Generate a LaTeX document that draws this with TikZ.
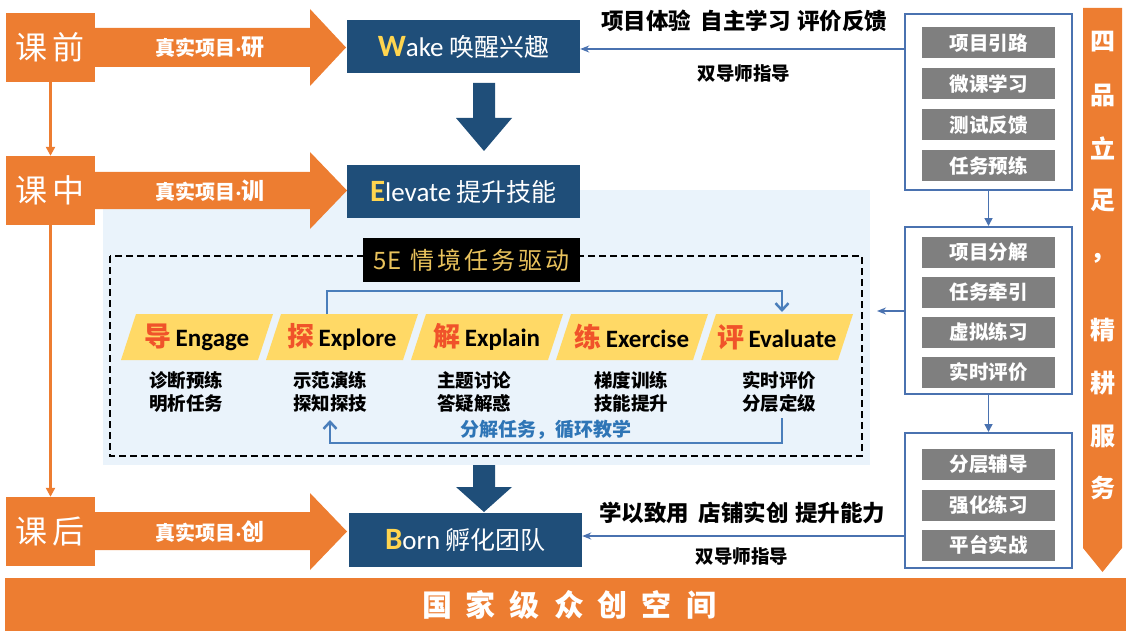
\documentclass[tikz,border=0pt]{standalone}
\usepackage{fontspec}
\setmainfont{Noto Sans CJK SC}
\newfontfamily\lat{Carlito}
\usetikzlibrary{arrows.meta}
\definecolor{org}{HTML}{ED7D31}
\definecolor{navy}{HTML}{1F4E79}
\definecolor{gold}{HTML}{FFD54F}
\definecolor{gold5}{HTML}{E9C25C}
\definecolor{yel}{HTML}{FFD966}
\definecolor{redc}{HTML}{F0532A}
\definecolor{gry}{HTML}{7F7F7F}
\definecolor{bord}{HTML}{4A72B0}
\definecolor{lblue}{HTML}{4A7EBB}
\definecolor{bgb}{HTML}{EAF3FB}
\definecolor{txtb}{HTML}{2E75B6}
\tikzset{
  lbox/.style={fill=org, text=white, inner sep=0, minimum width=89, minimum height=69, font=\fontsize{32}{32}\selectfont},
  nbox/.style={fill=navy, text=white, inner sep=0, minimum width=233, minimum height=53, font=\fontsize{25}{25}\selectfont},
  atext/.style={text=white, font=\bfseries\fontsize{20}{20}\selectfont},
  gitem/.style={fill=gry, text=white, inner sep=0, minimum width=133, minimum height=31, font=\bfseries\fontsize{19.5}{19.5}\selectfont},
  rbox/.style={draw=bord, line width=2, fill=white, inner sep=0, minimum width=167},
  conn/.style={draw=bord, line width=1.6},
  sub/.style={font=\bfseries\fontsize{18.5}{23}\selectfont, align=center},
  ptext/.style={font=\fontsize{25}{25}\selectfont},
  looparrow/.style={draw=lblue, line width=2.5, -{Straight Barb[length=7,width=13,line width=2.5]}},
  otext/.style={font=\bfseries\fontsize{22.5}{22.5}\selectfont},
  ttext/.style={font=\bfseries\fontsize{18.5}{18.5}\selectfont},
  vchar/.style={text=white, font=\bfseries\fontsize{25}{25}\selectfont},
}
\begin{document}
\begin{tikzpicture}[x=1pt,y=-1pt]
\useasboundingbox (0,0) rectangle (1126,631);

% light background region
\fill[bgb] (103,190) rectangle (870,465);

% left orange boxes
\node[lbox] (k1) at (50.5,47.5) {课\hspace{5pt}前};
\node[lbox] (k2) at (50.5,190.5) {课\hspace{5pt}中};
\node[lbox] (k3) at (50.5,531.5) {课\hspace{5pt}后};
\draw[org, line width=2.5, -{Triangle[length=9,width=9]}] (k1.south) -- (k2.north);
\draw[org, line width=2.5, -{Triangle[length=9,width=9]}] (k2.south) -- (k3.north);

% orange arrows
\fill[org] (95,28) -- (310,28) -- (310,9) -- (346,47.5) -- (310,86) -- (310,67) -- (95,67) -- cycle;
\fill[org] (95,172) -- (310,172) -- (310,152) -- (347,190.5) -- (310,229) -- (310,209) -- (95,209) -- cycle;
\fill[org] (95,512) -- (310,512) -- (310,493) -- (347,531.5) -- (310,570) -- (310,550) -- (95,550) -- cycle;
\node[atext] (a1) at (210,47.5) {真实项目{\lat\bfseries ·}{\fontsize{23}{23}\selectfont 研}};
\node[atext] (a2) at (210,190.5) {真实项目{\lat\bfseries ·}{\fontsize{23}{23}\selectfont 训}};
\node[atext] (a3) at (210,531.5) {真实项目{\lat\bfseries ·}{\fontsize{23}{23}\selectfont 创}};

% navy boxes
\node[nbox] (wake) at (463.5,46.5) {{\lat\bfseries\color{gold}\fontsize{31}{31}\selectfont W}{\lat\fontsize{27}{27}\selectfont ake} 唤醒兴趣};
\node[nbox] (elev) at (463.5,191.5) {{\lat\bfseries\color{gold}\fontsize{31}{31}\selectfont E}{\lat\fontsize{27}{27}\selectfont levate} 提升技能};
\node[nbox, minimum height=54] (born) at (465.5,540) {{\lat\bfseries\color{gold}\fontsize{31}{31}\selectfont B}{\lat\fontsize{27}{27}\selectfont orn} 孵化团队};

% navy down arrows
\fill[navy] (473,83) -- (495,83) -- (495,118) -- (512,118) -- (484,151) -- (456,118) -- (473,118) -- cycle;
\fill[navy] (473,465) -- (495,465) -- (495,487) -- (512,487) -- (484,512) -- (456,487) -- (473,487) -- cycle;

% dashed frame and title
\draw[black, line width=2, dash pattern=on 7pt off 4pt] (110,256) rectangle (862,456);
\node[fill=black, text=gold5, inner sep=0, minimum width=217, minimum height=44, font=\fontsize{24}{24}\selectfont] (title) at (471.5,260)
  {5E\hspace{9pt}情\hspace{3pt}境\hspace{3pt}任\hspace{3pt}务\hspace{3pt}驱\hspace{3pt}动};

% parallelograms
\foreach \i/\c/\w in {0/导/Engage,1/探/Explore,2/解/Explain,3/练/Exercise,4/评/Evaluate}{
  \pgfmathsetmacro{\bl}{121+145*\i}
  \fill[yel] (\bl,360) -- (\bl+137,360) -- (\bl+152,314) -- (\bl+15,314) -- cycle;
  \node[ptext] (p\i) at (\bl+76,337) {{\bfseries\color{redc}\fontsize{27}{27}\selectfont\c}\hspace{4pt}{\lat\bfseries \w}};
}
\node[sub] (s0) at (186,392) {诊断预练\\明析任务};
\node[sub] (s1) at (330,392) {示范演练\\探知探技};
\node[sub] (s2) at (474,392) {主题讨论\\答疑解惑};
\node[sub] (s3) at (631,392) {梯度训练\\技能提升};
\node[sub] (s4) at (779,392) {实时评价\\分层定级};

% loop arrows
\coordinate (lt1) at (327,314);
\coordinate (lt2) at (782,312);
\coordinate (lb1) at (782,418);
\coordinate (lb2) at (330,420);
\draw[looparrow] (lt1) -- (327,291) -- (782,291) -- (lt2);
\draw[looparrow] (lb1) -- (782,443) -- (330,443) -- (lb2);
\node[text=txtb, font=\bfseries\fontsize{19}{19}\selectfont] (cyc) at (546,430) {分解任务，循环教学};

% right boxes
\node[rbox, minimum height=176] (b1) at (988.5,102) {};
\node[rbox, minimum height=167] (b2) at (988.5,310.5) {};
\node[rbox, minimum height=135] (b3) at (988.5,500.5) {};
\node[gitem] (g11) at (988.5,43) {项目引路};
\node[gitem] (g12) at (988.5,84) {微课学习};
\node[gitem] (g13) at (988.5,125) {测试反馈};
\node[gitem] (g14) at (988.5,166) {任务预练};
\node[gitem] (g21) at (988.5,252) {项目分解};
\node[gitem] (g22) at (988.5,292) {任务牵引};
\node[gitem] (g23) at (988.5,332) {虚拟练习};
\node[gitem] (g24) at (988.5,372) {实时评价};
\node[gitem] (g31) at (988.5,464) {分层辅导};
\node[gitem] (g32) at (988.5,505) {强化练习};
\node[gitem] (g33) at (988.5,545) {平台实战};
\draw[conn, -{Triangle[length=8,width=8]}] (b1.south) -- (b2.north);
\draw[conn, -{Triangle[length=8,width=8]}] (b2.south) -- (b3.north);
\coordinate (e5) at (877,311);
\draw[conn, -{Stealth[length=9,width=7]}] (b2.west |- e5) -- (e5);
\draw[conn, -{Stealth[length=9,width=7]}] (b1.west |- 0,49) -- (wake.east |- 0,49);
\draw[conn, -{Stealth[length=9,width=7]}] (b3.west |- 0,536) -- (born.east |- 0,536);
\node[otext] (t1) at (744,21) {项目体验\hspace{10pt}自主学习\hspace{6pt}评价反馈};
\node[ttext] (t2) at (744,73) {双导师指导};
\node[otext] (t3) at (742,513) {学以致用\hspace{10pt}店铺实创\hspace{6pt}提升能力};
\node[ttext] (t4) at (742,556) {双导师指导};

% right banner
\fill[org] (1083,8) -- (1122,8) -- (1122,548) -- (1102.5,572) -- (1083,548) -- cycle;
\foreach \ch/\yy [count=\n] in {四/42,品/95,立/148,足/200,{，}/258,精/330,耕/383,服/436,务/488}{
  \node[vchar] (v\n) at (1102.5,\yy) {\ch};
}

% bottom bar
\fill[org] (5,578) rectangle (1126,631);
\node[text=white, font=\bfseries\fontsize{30}{30}\selectfont] (bar) at (569,605)
  {国\hspace{14pt}家\hspace{14pt}级\hspace{14pt}众\hspace{14pt}创\hspace{14pt}空\hspace{14pt}间};
\end{tikzpicture}
\end{document}
